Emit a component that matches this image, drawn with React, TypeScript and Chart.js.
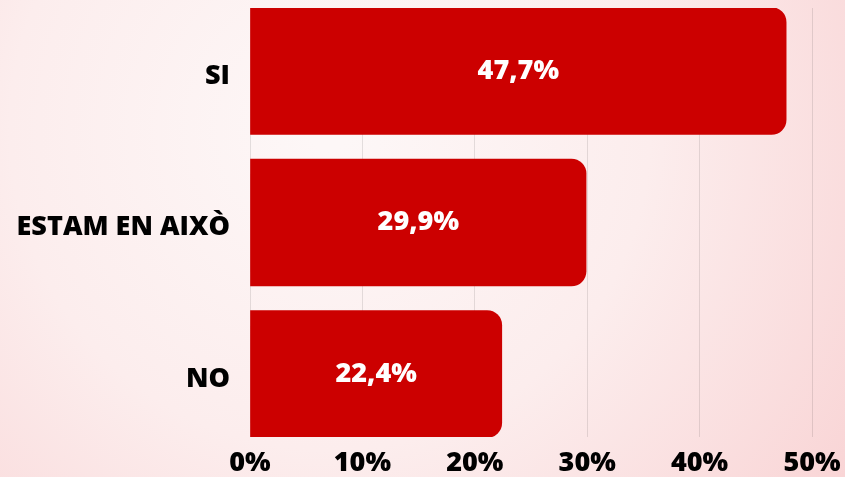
import React, { useEffect, useRef } from "react";
import { Chart, registerables } from "chart.js";

Chart.register(...registerables);

const categories = ["SI", "ESTAM EN AIXÒ", "NO"];
const values = [47.7, 29.9, 22.4];
const valueLabels = ["47,7%", "29,9%", "22,4%"];
const xTicks = [0, 10, 20, 30, 40, 50];

const FONT = "'Open Sans', Inter, 'DejaVu Sans', sans-serif";

const bgPlugin = {
  id: "bgGradient",
  beforeDraw(chart: any) {
    const { ctx, width, height } = chart;
    ctx.save();
    const g = ctx.createRadialGradient(330, 130, 20, 330, 130, 620);
    g.addColorStop(0, "#fdf7f7");
    g.addColorStop(0.5, "#fceded");
    g.addColorStop(1, "#f9d5d6");
    ctx.fillStyle = g;
    ctx.fillRect(0, 0, width, height);
    ctx.restore();
  },
};

const valueLabelPlugin = {
  id: "valueLabels",
  afterDatasetsDraw(chart: any) {
    const { ctx } = chart;
    const meta = chart.getDatasetMeta(0);
    ctx.save();
    ctx.fillStyle = "#ffffff";
    ctx.font = `800 27px ${FONT}`;
    ctx.textAlign = "center";
    ctx.textBaseline = "middle";
    meta.data.forEach((bar: any, i: number) => {
      const cx = (bar.base + bar.x) / 2;
      ctx.fillText(valueLabels[i], cx, bar.y);
    });
    ctx.restore();
  },
};

export default function App() {
  const ref = useRef<HTMLCanvasElement | null>(null);

  useEffect(() => {
    document.body.style.margin = "0";
    const canvas = ref.current;
    if (!canvas) return;
    const chart = new Chart(canvas, {
      type: "bar",
      data: {
        datasets: [
          {
            data: values.map((v, i) => ({ x: v, y: i })),
            backgroundColor: "#cc0000",
            borderRadius: 15,
            borderSkipped: "start",
            barThickness: 127,
          },
        ],
      },
      options: {
        indexAxis: "y",
        responsive: false,
        animation: false,
        layout: { padding: { left: 0, right: 33, top: 8, bottom: 0 } },
        plugins: {
          legend: { display: false },
          tooltip: { enabled: false },
        },
        scales: {
          x: {
            type: "linear",
            min: 0,
            max: 50,
            afterBuildTicks: (scale: any) => {
              scale.ticks = xTicks.map((v) => ({ value: v }));
            },
            afterFit: (scale: any) => {
              scale.height = 40;
              scale.paddingLeft = 0;
              scale.paddingRight = 0;
            },
            grid: {
              color: "rgba(0,0,0,0.1)",
              lineWidth: 1,
              drawTicks: false,
            },
            border: { display: false },
            ticks: {
              padding: 10,
              color: "#000000",
              font: { family: FONT, size: 27, weight: "800" },
              callback: (v: any) => `${v}%`,
            },
          },
          y: {
            type: "linear",
            reverse: true,
            offset: false,
            bounds: "data",
            grace: 0,
            min: -0.416,
            max: 2.416,
            afterDataLimits: (scale: any) => {
              scale.min = -0.416;
              scale.max = 2.416;
            },
            afterBuildTicks: (scale: any) => {
              scale.min = -0.416;
              scale.max = 2.416;
              scale.ticks = categories.map((_, i) => ({ value: i }));
            },
            afterFit: (scale: any) => {
              scale.width = 250;
              scale.paddingTop = 0;
              scale.paddingBottom = 0;
            },
            grid: { display: false, drawTicks: false, offset: false },
            border: { display: false },
            ticks: {
              padding: 20,
              labelOffset: 5,
              color: "#000000",
              font: { family: FONT, size: 27, weight: "800" },
              callback: (v: any) => categories[v as number] ?? "",
            },
          },
        },
      },
      plugins: [bgPlugin, valueLabelPlugin],
    } as any);
    return () => chart.destroy();
  }, []);

  return <canvas ref={ref} width={845} height={477} style={{ display: "block" }} />;
}
